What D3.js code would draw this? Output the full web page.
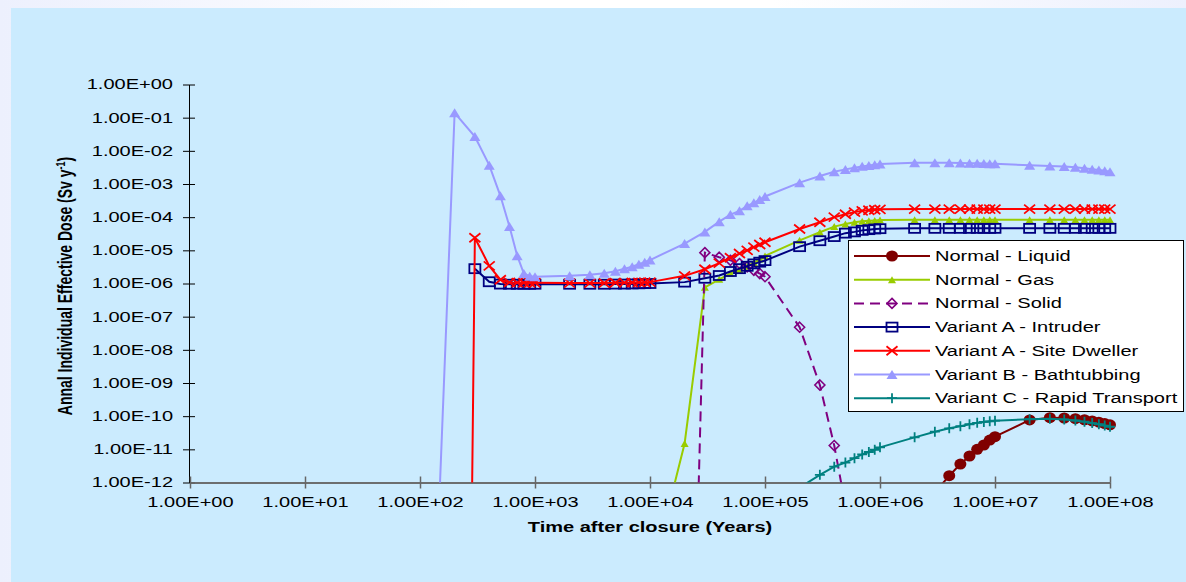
<!DOCTYPE html>
<html>
<head>
<meta charset="utf-8">
<script src="https://cdn.jsdelivr.net/npm/d3@7"></script>
<style>
  body { margin: 0; background: linear-gradient(90deg, #edf0fd, #ffffff 40%, #ffffff 65%, #edf0fd); }
  svg { display: block; font-family: Arial, "Liberation Sans", sans-serif; }
</style>
</head>
<body>
<svg id="chart" width="1186" height="582"></svg>
<script>
const xTicks = [1e0, 1e1, 1e2, 1e3, 1e4, 1e5, 1e6, 1e7, 1e8];
const xTickLabels = ["1.00E+00", "1.00E+01", "1.00E+02", "1.00E+03", "1.00E+04", "1.00E+05", "1.00E+06", "1.00E+07", "1.00E+08"];
const yTicks = [1e0, 1e-1, 1e-2, 1e-3, 1e-4, 1e-5, 1e-6, 1e-7, 1e-8, 1e-9, 1e-10, 1e-11, 1e-12];
const yTickLabels = ["1.00E+00", "1.00E-01", "1.00E-02", "1.00E-03", "1.00E-04", "1.00E-05", "1.00E-06",
  "1.00E-07", "1.00E-08", "1.00E-09", "1.00E-10", "1.00E-11", "1.00E-12"];

const seriesNames = ["Normal - Liquid", "Normal - Gas", "Normal - Solid", "Variant A - Intruder",
  "Variant A - Site Dweller", "Variant B - Bathtubbing", "Variant C - Rapid Transport"];

// [time (years), dose (Sv/y)]
const normalLiquid = [[3e6, 5e-13], [4e6, 1.6e-12], [5e6, 3.6e-12], [6e6, 6.3e-12], [7e6, 1.0e-11], [8e6, 1.35e-11],
  [9e6, 1.9e-11], [1e7, 2.4e-11], [2e7, 7.7e-11], [3e7, 9.0e-11], [4e7, 8.8e-11], [5e7, 8.4e-11], [6e7, 7.8e-11],
  [7e7, 7.2e-11], [8e7, 6.6e-11], [9e7, 6.0e-11], [1e8, 5.5e-11]];

const normalGas = [[1e4, 1e-15], [2e4, 1.5e-11], [3e4, 7.7e-7], [4e4, 1.34e-6], [5e4, 2.0e-6], [6e4, 2.6e-6],
  [7e4, 3.3e-6], [8e4, 4.3e-6], [9e4, 5.5e-6], [1e5, 6.8e-6], [2e5, 2.0e-5], [3e5, 3.5e-5], [4e5, 5.2e-5],
  [5e5, 6.2e-5], [6e5, 7.0e-5], [7e5, 7.5e-5], [8e5, 7.8e-5], [9e5, 8.0e-5], [1e6, 8.2e-5], [2e6, 8.3e-5],
  [3e6, 8.3e-5], [4e6, 8.3e-5], [5e6, 8.3e-5], [6e6, 8.3e-5], [7e6, 8.3e-5], [8e6, 8.3e-5], [9e6, 8.3e-5],
  [1e7, 8.3e-5], [2e7, 8.3e-5], [3e7, 8.3e-5], [4e7, 8.3e-5], [5e7, 8.3e-5], [6e7, 8.3e-5], [7e7, 8.3e-5],
  [8e7, 8.3e-5], [9e7, 8.3e-5], [1e8, 8.3e-5]];

const normalSolid = [[2e4, 1e-28], [3e4, 8.5e-6], [4e4, 6.2e-6], [5e4, 5.0e-6], [6e4, 4.0e-6], [7e4, 3.2e-6],
  [8e4, 2.5e-6], [9e4, 2.0e-6], [1e5, 1.6e-6], [2e5, 4.8e-8], [3e5, 8.7e-10], [4e5, 1.3e-11], [5e5, 2e-13]];

const variantAIntruder = [[300, 2.8e-6], [400, 1.13e-6], [500, 9.6e-7], [600, 9.5e-7], [700, 9.5e-7], [800, 9.5e-7],
  [900, 9.5e-7], [1000, 9.5e-7], [2000, 9.5e-7], [3000, 9.5e-7], [4000, 9.5e-7], [5000, 9.6e-7], [6000, 9.6e-7],
  [7000, 9.7e-7], [8000, 9.8e-7], [9000, 9.9e-7], [1e4, 1.0e-6], [2e4, 1.1e-6], [3e4, 1.44e-6], [4e4, 1.74e-6],
  [5e4, 2.3e-6], [6e4, 2.8e-6], [7e4, 3.3e-6], [8e4, 3.9e-6], [9e4, 4.4e-6], [1e5, 4.9e-6], [2e5, 1.29e-5],
  [3e5, 1.95e-5], [4e5, 2.6e-5], [5e5, 3.3e-5], [6e5, 3.6e-5], [7e5, 4.0e-5], [8e5, 4.2e-5], [9e5, 4.4e-5],
  [1e6, 4.5e-5], [2e6, 4.6e-5], [3e6, 4.6e-5], [4e6, 4.6e-5], [5e6, 4.6e-5], [6e6, 4.6e-5], [7e6, 4.6e-5],
  [8e6, 4.6e-5], [9e6, 4.6e-5], [1e7, 4.6e-5], [2e7, 4.6e-5], [3e7, 4.6e-5], [4e7, 4.6e-5], [5e7, 4.6e-5],
  [6e7, 4.6e-5], [7e7, 4.6e-5], [8e7, 4.6e-5], [9e7, 4.6e-5], [1e8, 4.6e-5]];

const variantASiteDweller = [[200, 1e-60], [300, 2.4e-5], [400, 3.4e-6], [500, 1.3e-6], [600, 1.08e-6], [700, 1.06e-6],
  [800, 1.05e-6], [900, 1.05e-6], [1000, 1.05e-6], [2000, 1.03e-6], [3000, 1.03e-6], [4000, 1.04e-6], [5000, 1.05e-6],
  [6000, 1.06e-6], [7000, 1.07e-6], [8000, 1.08e-6], [9000, 1.09e-6], [1e4, 1.1e-6], [2e4, 1.7e-6], [3e4, 2.7e-6],
  [4e4, 4.1e-6], [5e4, 6.0e-6], [6e4, 8.0e-6], [7e4, 1.0e-5], [8e4, 1.25e-5], [9e4, 1.5e-5], [1e5, 1.75e-5],
  [2e5, 4.4e-5], [3e5, 7.0e-5], [4e5, 1.0e-4], [5e5, 1.23e-4], [6e5, 1.42e-4], [7e5, 1.55e-4], [8e5, 1.62e-4],
  [9e5, 1.68e-4], [1e6, 1.72e-4], [2e6, 1.75e-4], [3e6, 1.75e-4], [4e6, 1.75e-4], [5e6, 1.75e-4], [6e6, 1.75e-4],
  [7e6, 1.75e-4], [8e6, 1.75e-4], [9e6, 1.75e-4], [1e7, 1.75e-4], [2e7, 1.75e-4], [3e7, 1.75e-4], [4e7, 1.75e-4],
  [5e7, 1.75e-4], [6e7, 1.75e-4], [7e7, 1.75e-4], [8e7, 1.75e-4], [9e7, 1.75e-4], [1e8, 1.75e-4]];

const variantBBathtubbing = [[100, 5e-28], [200, 1.4e-1], [300, 2.7e-2], [400, 3.7e-3], [500, 4.4e-4], [600, 5.2e-5],
  [700, 6.9e-6], [800, 2.0e-6], [900, 1.65e-6], [1000, 1.6e-6], [2000, 1.7e-6], [3000, 1.85e-6], [4000, 2.05e-6],
  [5000, 2.35e-6], [6000, 2.8e-6], [7000, 3.2e-6], [8000, 3.8e-6], [9000, 4.4e-6], [1e4, 5.1e-6], [2e4, 1.6e-5],
  [3e4, 3.6e-5], [4e4, 7.3e-5], [5e4, 1.2e-4], [6e4, 1.55e-4], [7e4, 2.2e-4], [8e4, 2.7e-4], [9e4, 3.4e-4],
  [1e5, 4.2e-4], [2e5, 1.1e-3], [3e5, 1.74e-3], [4e5, 2.35e-3], [5e5, 2.76e-3], [6e5, 3.1e-3], [7e5, 3.4e-3],
  [8e5, 3.6e-3], [9e5, 3.8e-3], [1e6, 4.0e-3], [2e6, 4.4e-3], [3e6, 4.4e-3], [4e6, 4.35e-3], [5e6, 4.3e-3],
  [6e6, 4.25e-3], [7e6, 4.2e-3], [8e6, 4.15e-3], [9e6, 4.1e-3], [1e7, 4.05e-3], [2e7, 3.7e-3], [3e7, 3.5e-3],
  [4e7, 3.35e-3], [5e7, 3.2e-3], [6e7, 3.0e-3], [7e7, 2.8e-3], [8e7, 2.65e-3], [9e7, 2.5e-3], [1e8, 2.35e-3]];

const variantCRapidTransport = [[1e5, 1e-14], [2e5, 7e-13], [3e5, 1.7e-12], [4e5, 3.0e-12], [5e5, 4.0e-12],
  [6e5, 5.4e-12], [7e5, 7.0e-12], [8e5, 8.3e-12], [9e5, 9.7e-12], [1e6, 1.15e-11], [2e6, 2.3e-11], [3e6, 3.4e-11],
  [4e6, 4.3e-11], [5e6, 5.0e-11], [6e6, 5.7e-11], [7e6, 6.3e-11], [8e6, 6.7e-11], [9e6, 7.0e-11], [1e7, 7.3e-11],
  [2e7, 8.1e-11], [3e7, 8.3e-11], [4e7, 8.0e-11], [5e7, 7.4e-11], [6e7, 6.8e-11], [7e7, 6.2e-11], [8e7, 5.7e-11],
  [9e7, 5.2e-11], [1e8, 4.8e-11]];

const seriesData = [normalLiquid, normalGas, normalSolid, variantAIntruder,
  variantASiteDweller, variantBBathtubbing, variantCRapidTransport];

// looks of each series, same order as seriesNames
const seriesStyle = [
  { color: "#800000", marker: "circle", w: 12, h: 11, fill: true },
  { color: "#99cc00", marker: "triangle", w: 8, h: 7, fill: true },
  { color: "#800080", marker: "diamond", w: 10, h: 10, fill: false, dash: "10,6" },
  { color: "#000080", marker: "square", w: 11, h: 9, fill: false },
  { color: "#ff0000", marker: "cross", w: 11, h: 9, fill: false },
  { color: "#9999ff", marker: "triangle", w: 11, h: 9, fill: true },
  { color: "#008080", marker: "plus", w: 10, h: 10, fill: false }
];

const stretch = 1.43; // the original picture was widened, text included

function widen(sel, k) {
  sel.each(function() {
    const w = this.getComputedTextLength();
    d3.select(this).attr("textLength", w * k).attr("lengthAdjust", "spacingAndGlyphs");
  });
}

function drawMarker(g, st, cx, cy) {
  const w = st.w, h = st.h;
  if (st.marker === "circle") {
    g.append("ellipse").attr("cx", cx).attr("cy", cy).attr("rx", w / 2).attr("ry", h / 2)
      .attr("fill", st.color);
  } else if (st.marker === "triangle") {
    g.append("path")
      .attr("d", `M${cx},${cy - h / 2}L${cx + w / 2},${cy + h / 2}L${cx - w / 2},${cy + h / 2}Z`)
      .attr("fill", st.color);
  } else if (st.marker === "diamond") {
    g.append("path")
      .attr("d", `M${cx},${cy - h / 2}L${cx + w / 2},${cy}L${cx},${cy + h / 2}L${cx - w / 2},${cy}Z`)
      .attr("fill", "none").attr("stroke", st.color).attr("stroke-width", 1.6);
  } else if (st.marker === "square") {
    g.append("rect").attr("x", cx - w / 2).attr("y", cy - h / 2).attr("width", w).attr("height", h)
      .attr("fill", "none").attr("stroke", st.color).attr("stroke-width", 1.8);
  } else if (st.marker === "cross") {
    g.append("path")
      .attr("d", `M${cx - w / 2},${cy - h / 2}L${cx + w / 2},${cy + h / 2}M${cx - w / 2},${cy + h / 2}L${cx + w / 2},${cy - h / 2}`)
      .attr("stroke", st.color).attr("stroke-width", 1.8);
  } else if (st.marker === "plus") {
    g.append("path")
      .attr("d", `M${cx - w / 2},${cy}L${cx + w / 2},${cy}M${cx},${cy - h / 2}L${cx},${cy + h / 2}`)
      .attr("stroke", st.color).attr("stroke-width", 1.8);
  }
}

const svg = d3.select("#chart");

svg.append("rect")
  .attr("x", 11).attr("y", 8)
  .attr("width", 1175).attr("height", 574)
  .attr("fill", "#cbebfe");

const x = d3.scaleLog().domain([1, 1e8]).range([190, 1110]);
const y = d3.scaleLog().domain([1e-12, 1]).range([482.5, 84.5]);

svg.append("defs").append("clipPath")
  .attr("id", "plotclip")
  .append("rect")
  .attr("x", 185).attr("y", 60)
  .attr("width", 940).attr("height", 482.5 - 60);

// axes (Excel style ticks cross the axis line)
const yAxisG = svg.append("g").attr("transform", "translate(189,0)");
yAxisG.call(d3.axisLeft(y).tickValues(yTicks).tickFormat((d, i) => yTickLabels[i])
  .tickSizeInner(6).tickSizeOuter(0).tickPadding(10));
yAxisG.append("g").call(d3.axisRight(y).tickValues(yTicks).tickFormat("").tickSizeInner(6).tickSizeOuter(0));
yAxisG.selectAll("path, line").attr("stroke", "#000");
yAxisG.selectAll("text").attr("font-size", 14).attr("fill", "#000").attr("font-family", null);
widen(yAxisG.selectAll("text"), stretch);

const xAxisG = svg.append("g").attr("transform", "translate(0,482.5)");
xAxisG.call(d3.axisBottom(x).tickValues(xTicks).tickFormat((d, i) => xTickLabels[i])
  .tickSizeInner(6).tickSizeOuter(0).tickPadding(8.5));
xAxisG.append("g").call(d3.axisTop(x).tickValues(xTicks).tickFormat("").tickSizeInner(6).tickSizeOuter(0));
xAxisG.selectAll("path, line").attr("stroke", "#666").attr("stroke-width", 1.5);
xAxisG.selectAll("text").attr("font-size", 14).attr("fill", "#000").attr("font-family", null);
widen(xAxisG.selectAll("text"), stretch);

// series
const line = d3.line().x(d => x(d[0])).y(d => y(d[1]));
seriesData.forEach((data, i) => {
  const st = seriesStyle[i];
  const g = svg.append("g");
  g.append("path")
    .datum(data)
    .attr("clip-path", "url(#plotclip)")
    .attr("fill", "none")
    .attr("stroke", st.color)
    .attr("stroke-width", 2)
    .attr("stroke-dasharray", st.dash || null)
    .attr("d", line);
  data.filter(d => d[1] >= 1e-12).forEach(d => drawMarker(g, st, x(d[0]), y(d[1])));
});

// axis titles
const xTitle = svg.append("text")
  .attr("x", 650).attr("y", 532)
  .attr("text-anchor", "middle")
  .attr("font-size", 14).attr("font-weight", "bold")
  .text("Time after closure (Years)");
widen(xTitle, stretch);

const yTitle = svg.append("text")
  .attr("transform", `translate(72,286) scale(${stretch},1) rotate(-90)`)
  .attr("text-anchor", "middle")
  .attr("font-size", 14).attr("font-weight", "bold");
yTitle.append("tspan").text("Annal Individual Effective Dose (Sv y");
yTitle.append("tspan").attr("dy", -5).attr("font-size", 9).text("-1");
yTitle.append("tspan").attr("dy", 5).text(")");

// legend
const legend = svg.append("g");
legend.append("rect")
  .attr("x", 848.5).attr("y", 240.5)
  .attr("width", 335).attr("height", 171)
  .attr("fill", "#fff").attr("stroke", "#000").attr("stroke-width", 1);

seriesNames.forEach((name, i) => {
  const st = seriesStyle[i];
  const ly = 256 + i * 23.7;
  const row = legend.append("g");
  row.append("line")
    .attr("x1", 854).attr("x2", 930).attr("y1", ly).attr("y2", ly)
    .attr("stroke", st.color).attr("stroke-width", 2)
    .attr("stroke-dasharray", st.dash || null);
  drawMarker(row, st, 892, ly);
  const t = row.append("text")
    .attr("x", 935).attr("y", ly + 5)
    .attr("font-size", 14).attr("fill", "#000")
    .text(name);
  widen(t, stretch);
});
</script>
</body>
</html>
